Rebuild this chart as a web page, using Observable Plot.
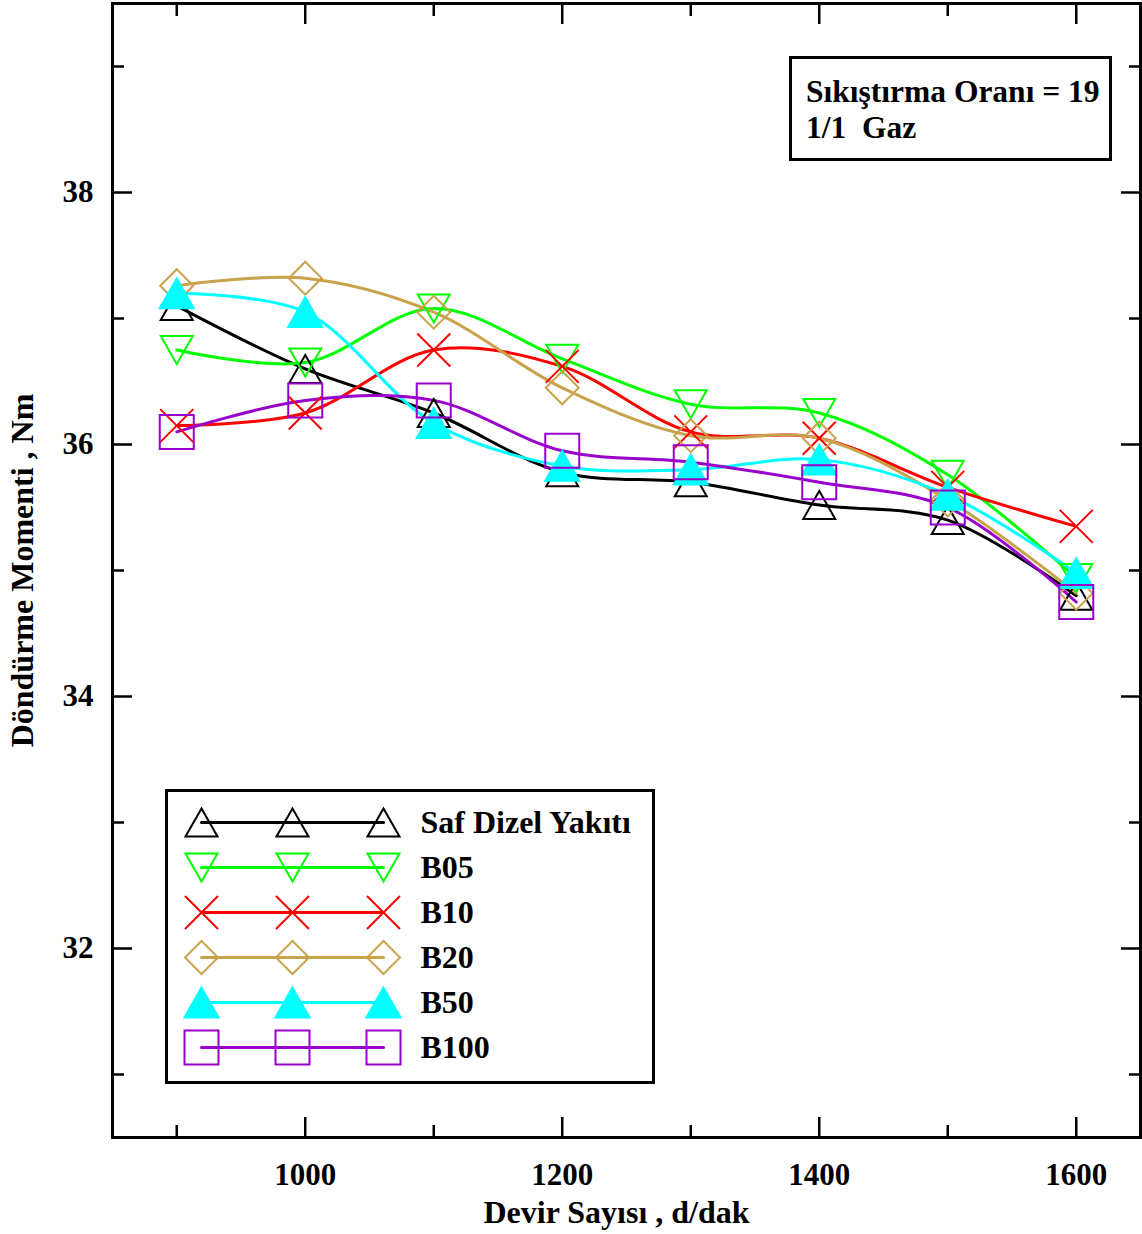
<!DOCTYPE html>
<html>
<head>
<meta charset="utf-8">
<script src="https://cdn.jsdelivr.net/npm/d3@7"></script>
<script src="https://cdn.jsdelivr.net/npm/@observablehq/plot@0.6"></script>
<style>
  body { margin: 0; background: #fff; }
  #wrap { position: relative; width: 1142px; height: 1234px; font-family: "Liberation Serif", "Times New Roman", serif; font-weight: bold; color: #000; }
  #chart { position: absolute; left: 0; top: 0; }
  #note { position: absolute; left: 789px; top: 56px; width: 317px; height: 99px; border: 3px solid #000; background: #fff;
          font-size: 31.5px; line-height: 36px; padding: 0; white-space: pre; }
  #note div { position: absolute; left: 14px; }
  #legend { position: absolute; left: 165px; top: 789px; width: 484px; height: 289px; border: 3px solid #000; background: #fff; }
</style>
</head>
<body>
<div id="wrap">
  <div id="chart"></div>
  <div id="note"><div style="top:15px">Sıkıştırma Oranı = 19</div><div style="top:51px">1/1  Gaz</div></div>
  <div id="legend"></div>
</div>
<script>
// ---- data ----
const rpm = [900, 1000, 1100, 1200, 1300, 1400, 1500, 1600];
const seriesNames = ["Saf Dizel Yakıtı", "B05", "B10", "B20", "B50", "B100"];
const safDizel = [37.10, 36.60, 36.25, 35.78, 35.70, 35.52, 35.40, 34.80];
const b05      = [36.75, 36.65, 37.08, 36.68, 36.32, 36.25, 35.76, 34.94];
const b10      = [36.15, 36.25, 36.75, 36.62, 36.10, 36.05, 35.66, 35.35];
const b20      = [37.26, 37.32, 37.05, 36.45, 36.07, 36.05, 35.56, 34.82];
const b50      = [37.20, 37.05, 36.17, 35.83, 35.80, 35.88, 35.60, 34.98];
const b100     = [36.10, 36.35, 36.35, 35.95, 35.86, 35.70, 35.50, 34.75];
const seriesValues = [safDizel, b05, b10, b20, b50, b100];
const xTicksMajor = [1000, 1200, 1400, 1600];
const xTicksMinor = [900, 1100, 1300, 1500];
const yTicksMajor = [32, 34, 36, 38];
const yTicksMinor = [31, 33, 35, 37, 39];
const xTitle = "Devir Sayısı , d/dak";
const yTitle = "Döndürme Momenti , Nm";

// ---- styles ----
const colors = ["#000000", "#00ff00", "#ff0000", "#c9a24c", "#00ffff", "#9a00cc"];
const fills  = ["none", "none", "none", "none", "#00ffff", "none"];
const triUp = { draw(c, size) { const r = Math.sqrt(size / Math.PI); const h = r * 0.875; c.moveTo(0, -h); c.lineTo(r, h); c.lineTo(-r, h); c.closePath(); } };
const triDown = { draw(c, size) { const r = Math.sqrt(size / Math.PI); const h = r * 0.875; c.moveTo(0, h); c.lineTo(r, -h); c.lineTo(-r, -h); c.closePath(); } };
const cross = { draw(c, size) { const r = Math.sqrt(size / Math.PI); c.moveTo(-r, -r); c.lineTo(r, r); c.moveTo(r, -r); c.lineTo(-r, r); } };
const diamond = { draw(c, size) { const r = Math.sqrt(size / Math.PI); c.moveTo(0, -r); c.lineTo(r, 0); c.lineTo(0, r); c.lineTo(-r, 0); c.closePath(); } };
const square = { draw(c, size) { const r = Math.sqrt(size / Math.PI); c.rect(-r, -r, 2 * r, 2 * r); } };
const symbols = [triUp, triDown, cross, diamond, triUp, square];
const radii = [16, 16, 16.5, 16.5, 17, 17];

const data = seriesNames.map((name, s) => rpm.map((x, i) => ({ series: name, rpm: x, torque: seriesValues[s][i] })));

const font = { fontFamily: "Liberation Serif, Times New Roman, serif", fontSize: "31px", fontWeight: "bold" };

const marks = [];
data.forEach((d, s) => {
  marks.push(Plot.line(d, { x: "rpm", y: "torque", stroke: colors[s], strokeWidth: 3, curve: "catmull-rom" }));
});
data.forEach((d, s) => {
  marks.push(Plot.dot(d, { x: "rpm", y: "torque", symbol: symbols[s], r: radii[s], stroke: colors[s], fill: fills[s], strokeWidth: 2 }));
});

const chart = Plot.plot({
  width: 1142, height: 1234,
  marginLeft: 112, marginRight: 2, marginTop: 3, marginBottom: 97,
  x: { domain: [850, 1650] },
  y: { domain: [30.5, 39.5] },
  style: { ...font, color: "#000", background: "transparent", overflow: "visible" },
  marks: [
    ...marks,
    // tick labels
    Plot.axisX({ anchor: "bottom", ticks: xTicksMajor, tickSize: 0, tickPadding: 25, tickFormat: "d", label: null }),
    Plot.axisY({ anchor: "left", ticks: yTicksMajor, tickSize: 0, tickPadding: 19, tickFormat: "d", label: null }),
    // inward ticks
    Plot.axisX({ anchor: "bottom", ticks: xTicksMajor, tickSize: 20, dy: -20, strokeWidth: 2.5, fill: "none", label: null }),
    Plot.axisX({ anchor: "bottom", ticks: xTicksMinor, tickSize: 12, dy: -12, strokeWidth: 2.5, fill: "none", label: null }),
    Plot.axisX({ anchor: "top", ticks: xTicksMajor, tickSize: 20, dy: 20, strokeWidth: 2.5, fill: "none", label: null }),
    Plot.axisX({ anchor: "top", ticks: xTicksMinor, tickSize: 12, dy: 12, strokeWidth: 2.5, fill: "none", label: null }),
    Plot.axisY({ anchor: "left", ticks: yTicksMajor, tickSize: 20, dx: 20, strokeWidth: 2.5, fill: "none", label: null }),
    Plot.axisY({ anchor: "left", ticks: yTicksMinor, tickSize: 12, dx: 12, strokeWidth: 2.5, fill: "none", label: null }),
    Plot.axisY({ anchor: "right", ticks: yTicksMajor, tickSize: 20, dx: -20, strokeWidth: 2.5, fill: "none", label: null }),
    Plot.axisY({ anchor: "right", ticks: yTicksMinor, tickSize: 12, dx: -12, strokeWidth: 2.5, fill: "none", label: null }),
    Plot.frame({ strokeWidth: 3 }),
    // titles
    Plot.text([xTitle], { frameAnchor: "bottom", dx: -10, dy: 75, text: d => d, fontSize: 32, fontWeight: "bold", lineAnchor: "middle", textAnchor: "middle" }),
    Plot.text([yTitle], { frameAnchor: "left", dx: -90, text: d => d, fontSize: 32, fontWeight: "bold", rotate: -90, lineAnchor: "middle", textAnchor: "middle" })
  ]
});
document.getElementById("chart").appendChild(chart);

// ---- legend ----
const legendPos = [0, 1, 2];
const legendMarks = [];
seriesNames.forEach((name, s) => {
  const pts = legendPos.map(p => ({ series: name, pos: p }));
  legendMarks.push(Plot.line(pts, { x: "pos", y: "series", stroke: colors[s], strokeWidth: 3 }));
  legendMarks.push(Plot.dot(pts, { x: "pos", y: "series", symbol: symbols[s], r: radii[s], stroke: colors[s], fill: fills[s], strokeWidth: 2 }));
});
legendMarks.push(Plot.text(seriesNames, { x: () => 2, y: d => d, text: d => d, dx: 37, textAnchor: "start", fontSize: 32, fontWeight: "bold", fill: "#000" }));
const legend = Plot.plot({
  width: 484, height: 289, margin: 0,
  x: { domain: [0, 2], range: [33, 215] },
  y: { type: "point", domain: seriesNames, range: [29, 255], padding: 0 },
  axis: null,
  style: { ...font, background: "transparent", overflow: "visible" },
  marks: legendMarks
});
document.getElementById("legend").appendChild(legend);
</script>
</body>
</html>
